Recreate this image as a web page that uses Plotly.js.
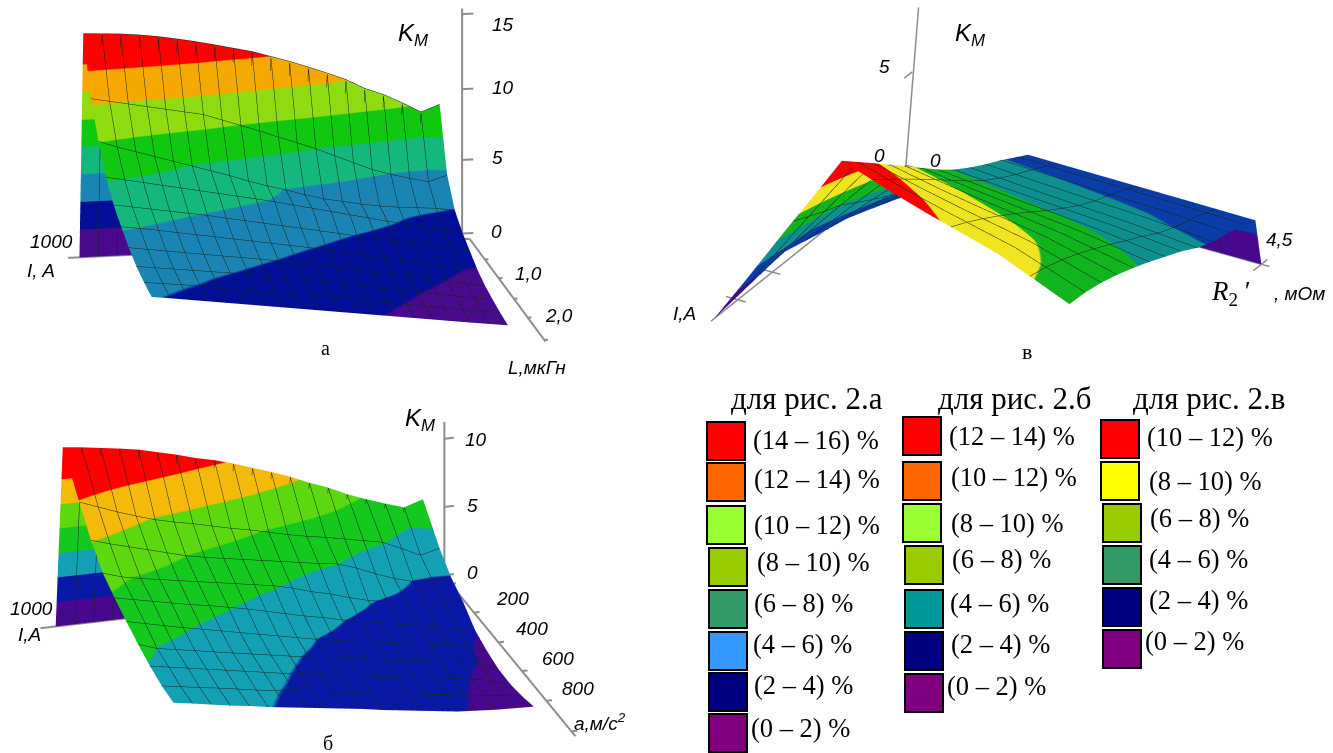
<!DOCTYPE html>
<html><head><meta charset="utf-8">
<script src="https://cdn.plot.ly/plotly-3.0.1.min.js"></script>
<style>html,body{margin:0;padding:0;background:#fff}#g{width:1333px;height:753px}</style></head>
<body><div id="g"></div>
<script>
// ---------- panel а: K_M(I, L) ----------
const currentA = [1000,950,900,850,800,750,700,650,600,550,500,450,400,350,300,250,200,150,100,50];
const inductanceA = [0,0.15,0.45,0.75,1.05,1.35,1.65,1.95,2.25,2.55,2.85];
const kmA = [
 [0,0,0,0,0,0,0,0,0,0,0,0,0,0,0,0,0,0,0,0],
 [16.17,16.1,16.02,15.89,15.71,15.48,15.23,14.94,14.64,14.34,13.93,13.52,13.06,12.57,12.05,11.36,10.87,10.22,9.5,9.98],
 [12.3,12.05,11.8,11.55,11.3,11.05,10.8,10.35,9.9,9.45,8.95,8.5,8.0,7.45,6.9,6.35,5.95,5.6,5.3,5.7],
 [10.0,9.55,9.15,8.75,8.35,7.95,7.55,7.15,6.7,6.3,5.95,5.55,5.2,4.95,4.7,4.5,4.35,4.25,4.15,3.95],
 [8.2,7.95,7.7,7.44,7.19,6.93,6.68,6.42,6.17,5.9,5.6,5.32,5.03,4.73,4.44,4.15,3.87,3.6,3.35,3.1],
 [6.97,6.76,6.55,6.34,6.13,5.91,5.66,5.42,5.18,4.93,4.69,4.45,4.2,3.95,3.72,3.5,3.28,3.05,2.8,2.5],
 [6.15,5.98,5.77,5.55,5.34,5.13,4.91,4.7,4.49,4.27,4.06,3.82,3.57,3.32,3.07,2.82,2.57,2.32,2.07,1.9],
 [5.4,5.22,5.04,4.86,4.68,4.5,4.33,4.15,3.96,3.74,3.52,3.3,3.08,2.86,2.64,2.42,2.2,1.98,1.75,1.5],
 [4.8,4.65,4.49,4.34,4.18,4.03,3.85,3.65,3.45,3.25,3.05,2.85,2.65,2.45,2.25,2.05,1.85,1.65,1.45,1.25],
 [4.4,4.25,4.11,3.97,3.76,3.58,3.4,3.22,3.04,2.86,2.68,2.5,2.33,2.15,1.97,1.78,1.6,1.42,1.24,1.05],
 [4.1,3.94,3.77,3.6,3.43,3.26,3.09,2.92,2.75,2.58,2.41,2.24,2.07,1.9,1.73,1.56,1.39,1.22,1.06,0.9]
];
// ---------- panel б: K_M(I, a) ----------
const currentB = [1000,950,900,850,800,750,700,650,600,550,500,450,400,350,300,250,200,150,100,50];
const accelB = [0,60,200,300,400,500,600,700,800,900,1000];
const kmB = [
 [0,0,0,0,0,0,0,0,0,0,0,0,0,0,0,0,0,0,0,0],
 [14.6,14.42,14.2,13.98,13.73,13.36,13.0,12.57,12.23,11.8,11.3,10.8,10.27,9.63,9.08,8.4,7.84,7.33,6.86,7.33],
 [11.9,11.35,10.8,10.3,9.85,9.5,9.2,8.85,8.5,8.2,7.85,7.5,7.2,6.95,6.65,6.35,6.05,5.4,4.7,5.08],
 [10.04,9.6,9.2,8.8,8.4,8.0,7.7,7.45,7.2,6.95,6.7,6.45,6.2,6.0,5.5,4.9,4.35,3.95,3.9,3.9],
 [8.6,8.15,7.85,7.6,7.35,7.1,6.85,6.6,6.35,6.1,5.75,5.3,4.95,4.5,4.1,3.85,3.7,3.5,3.3,3.15],
 [7.8,7.5,7.2,6.9,6.6,6.35,6.05,5.75,5.4,5.05,4.7,4.4,4.05,3.75,3.5,3.2,2.95,2.65,2.4,2.1],
 [7.08,6.75,6.42,6.1,5.8,5.5,5.2,4.9,4.6,4.3,4.0,3.75,3.5,3.3,3.05,2.85,2.6,2.4,2.15,1.6],
 [6.42,5.93,5.67,5.42,5.16,4.9,4.65,4.4,4.15,3.9,3.7,3.45,3.25,3.0,2.8,2.6,2.4,2.2,1.95,1.27],
 [5.85,5.6,5.35,5.1,4.85,4.6,4.35,4.1,3.85,3.65,3.45,3.25,3.0,2.8,2.6,2.4,2.15,1.95,1.65,1.23],
 [5.42,5.2,4.95,4.75,4.5,4.25,4.05,3.85,3.65,3.45,3.2,3.0,2.8,2.6,2.4,2.2,2.0,1.8,1.6,1.4],
 [5.23,5.0,4.75,4.5,4.3,4.05,3.85,3.65,3.45,3.25,3.05,2.8,2.6,2.4,2.2,2.0,1.9,1.8,1.75,1.7]
];
// ---------- panel в: K_M(I, R2') ----------
const currentC = [960,880,800,720,640,560,480,400,320,240,160,80,30,0];
const resistC = [
 [0,0.09,0.18,0.27,0.34,0.41,0.47,0.59,0.72,0.86,0.99,1.13,1.22,1.22],
 [0.41,0.47,0.54,0.61,0.66,0.71,0.76,0.85,0.95,1.05,1.15,1.25,1.32,1.32],
 [0.89,0.93,0.97,1.01,1.04,1.07,1.10,1.15,1.22,1.28,1.34,1.40,1.44,1.44],
 [1.30,1.31,1.33,1.35,1.36,1.38,1.39,1.41,1.44,1.47,1.49,1.52,1.54,1.54],
 [1.62,1.62,1.62,1.62,1.62,1.62,1.62,1.62,1.62,1.62,1.62,1.62,1.62,1.62],
 [2.25,2.25,2.25,2.25,2.25,2.25,2.25,2.25,2.25,2.25,2.25,2.25,2.25,2.25],
 [2.7,2.7,2.7,2.7,2.7,2.7,2.7,2.7,2.7,2.7,2.7,2.7,2.7,2.7],
 [3.6,3.6,3.6,3.6,3.6,3.6,3.6,3.6,3.6,3.6,3.6,3.6,3.6,3.6],
 [4.5,4.5,4.5,4.5,4.5,4.5,4.5,4.5,4.5,4.5,4.5,4.5,4.5,4.5]
];
const kmC = [
 [0,0.7,1.4,2.1,2.1,2.1,2.1,2.1,2.1,2.1,2.1,2.1,2.1,0],
 [3,3.31,3.62,3.92,3.7,3.47,3.25,3.05,2.89,2.74,2.61,2.46,2.37,0],
 [6.6,6.44,6.27,6.1,5.61,5.12,4.63,4.19,3.83,3.5,3.21,2.9,2.69,0],
 [9.6,9.04,8.49,7.92,7.21,6.49,5.78,5.14,4.61,4.14,3.72,3.24,2.95,0],
 [12,11.13,10.26,9.38,8.49,7.59,6.7,5.9,5.24,4.65,4.12,3.52,3.16,0],
 [10.91,10.22,9.5,8.74,7.97,7.17,6.38,5.65,5.01,4.46,3.99,3.46,3.13,0],
 [10.21,9.64,9.01,8.34,7.64,6.91,6.17,5.49,4.86,4.34,3.91,3.43,3.11,0],
 [8.92,8.56,8.11,7.59,7.02,6.42,5.79,5.2,4.59,4.12,3.77,3.36,3.07,0],
 [7.04,6.98,6.79,6.49,6.12,5.7,5.23,4.77,4.19,3.79,3.55,3.26,3.02,0]
];
// band colours of the surfaces, lowest band first
const bandsA = ['#4a0a8c','#000f96','#1a84b4','#14b87d','#10c810','#8fdc10','#f5a800','#ff0000'];
const bandsB = ['#48088e','#0a18a8','#14a0b4','#14c81e','#5cd80e','#f5b90a','#ff0000'];
const bandsC = ['#48088e','#0a3ca8','#0f9090','#12b41e','#f0e51e','#ff0000'];
// axis tick positions
const zTicksA=[0.4,5.6,10.6,15.9], lTicksA=[0.6,1.15,1.75,2.3,2.95];
const zTicksB=[0.5,5.8,11.1], aTicksB=[20,219,426,626,833,1046];
const zTicksC=[0,5.9], iTicksC=[668,841];
// legend
const legendTitles=['для рис. 2.а','для рис. 2.б','для рис. 2.в'];
const legendLabelsA=['(14 – 16) %','(12 – 14) %','(10 – 12) %','(8 – 10) %','(6 – 8) %','(4 – 6) %','(2 – 4) %','(0 – 2) %'];
const legendColorsA=['#ff0000','#ff6600','#99ff33','#99cc00','#339966','#3399ff','#000080','#800080'];
const legendLabelsB=['(12 – 14) %','(10 – 12) %','(8 – 10) %','(6 – 8) %','(4 – 6) %','(2 – 4) %','(0 – 2) %'];
const legendColorsB=['#ff0000','#ff6600','#99ff33','#99cc00','#009999','#000080','#800080'];
const legendLabelsC=['(10 – 12) %','(8 – 10) %','(6 – 8) %','(4 – 6) %','(2 – 4) %','(0 – 2) %'];
const legendColorsC=['#ff0000','#ffff00','#99cc00','#339966','#000080','#800080'];

const W=1333,H=753, PXH=0.505, D=10;
function discrete(c){const o=[],n=c.length;c.forEach((v,i)=>{o.push([i/n,v],[(i+1)/n,v]);});return o;}
const flat={ambient:1,diffuse:0,specular:0,roughness:1,fresnel:0};
const noAxis=r=>({visible:false,range:r,showspikes:false});
const LINE='#14241e';
function cont(s,e,z){return {show:true,start:s,end:e,size:z,color:LINE,width:2,highlight:false};}
function axisLine(scene,x,y,z,w){return {type:'scatter3d',mode:'lines',scene,x,y,z,line:{color:'#8c8c8c',width:w||4},hoverinfo:'skip',showlegend:false};}
function segs(list){const x=[],y=[],z=[];list.forEach(s=>{x.push(s[0],s[3],null);y.push(s[1],s[4],null);z.push(s[2],s[5],null);});return [x,y,z];}
function sceneCfg(dom,xr,yr,zr,len,dir){
 const px=PXH*(dom[3]-dom[2]);
 return {domain:{x:[dom[0]/W,dom[1]/W],y:[1-dom[3]/H,1-dom[2]/H]},
  xaxis:noAxis(xr),yaxis:noAxis(yr),zaxis:noAxis(zr),
  aspectmode:'manual',aspectratio:{x:len[0]/px,y:len[1]/px,z:len[2]/px},
  camera:{projection:{type:'orthographic'},up:{x:0,y:0,z:1},center:{x:0,y:0,z:0},eye:{x:dir[0]*D,y:dir[1]*D,z:dir[2]*D}}};
}
const data=[];
data.push({type:'surface',scene:'scene',x:currentA,y:inductanceA,z:kmA,cmin:0,cmax:16,colorscale:discrete(bandsA),showscale:false,lighting:flat,hoverinfo:'skip',
  contours:{x:cont(50,1000,50),y:cont(0.15,2.85,0.3)}});
data.push({type:'surface',scene:'scene2',x:currentB,y:accelB,z:kmB,cmin:0,cmax:14,colorscale:discrete(bandsB),showscale:false,lighting:flat,hoverinfo:'skip',
  contours:{x:cont(50,1000,50),y:cont(200,1000,100)}});
data.push({type:'surface',scene:'scene3',x:resistC.map(()=>currentC),y:resistC,z:kmC,cmin:0,cmax:12,colorscale:discrete(bandsC),showscale:false,lighting:flat,hoverinfo:'skip',
  contours:{x:cont(80,960,80),y:cont(2.7,2.7,1)}});
// axes
let a;
a=segs([[-20,0,0,-20,0,16.3],[-40,0,0,-40,3.0,0],[-40,0,0,1030,0,0]].concat(zTicksA.map(t=>[-20,0,t,-50,0,t])).concat(lTicksA.map(t=>[-40,t,0,-50,t,0])));
data.push(axisLine('scene',a[0],a[1],a[2]));
a=segs([[-25,0,0,-25,0,12.4],[-35,0,0,-35,1080,0],[-35,0,0,1040,0,0]].concat(zTicksB.map(t=>[-25,0,t,-50,0,t])).concat(aTicksB.map(t=>[-35,t,0,-50,t,0])));
data.push(axisLine('scene2',a[0],a[1],a[2]));
a=segs([[0,0,0,0,0.16,10],[0,0,0,975,0,0],[0,0,0,0,4.6,0],[-30,4.5,0,40,4.5,0]].concat(zTicksC.map(t=>[0,0.08,t,40,0.08,t])).concat(iTicksC.map(t=>[t,-0.15,0,t,0.1,0])));
data.push(axisLine('scene3',a[0],a[1],a[2],3));

const ann=[],shapes=[];
const txt=(t,x,y,o)=>ann.push(Object.assign({text:t,xref:'paper',yref:'paper',x:x/W,y:1-y/H,showarrow:false,xanchor:'center',yanchor:'middle',
  font:{family:'Liberation Sans',size:19,color:'#000'}},o||{}));
const it=s=>'<i>'+s+'</i>';
const km=`<i>K<sub>М</sub></i>`;
const cap=s=>({family:'Liberation Serif',size:s,color:'#000'});
txt(km,413,35,{font:{family:'Liberation Sans',size:24,color:'#000'}});
[['15',503,25],['10',503,87],['5',497,157],['0',496,232],['1000',51,242],['I, A',41,270],['1,0',528,273],['2,0',559,315],['L,мкГн',537,367]].forEach(l=>txt(it(l[0]),l[1],l[2]));
txt('а',325,348,{font:cap(20)});
txt(km,420,420,{font:{family:'Liberation Sans',size:24,color:'#000'}});
[['10',476,439],['5',472,506],['0',472,572],['1000',31,608],['I,A',30,634],['200',512,598],['400',532,628],['600',558,658],['800',578,688],['a,м/с<sup>2</sup>',600,722]].forEach(l=>txt(it(l[0]),l[1],l[2]));
txt('б',328,743,{font:cap(20)});
txt(km,970,35,{font:{family:'Liberation Sans',size:24,color:'#000'}});
[['5',885,66],['0',879,155],['0',935,160],['4,5',1279,240],['I,A',684,313],[', мОм',1299,293]].forEach(l=>txt(it(l[0]),l[1],l[2]));
txt('<i>R</i><sub>2</sub> ′',1231,293,{font:cap(27)});
txt('в',1027,351,{font:cap(22)});
const serif=cap;
[[729,legendTitles[0]],[936,legendTitles[1]],[1131,legendTitles[2]]].forEach(t=>txt(t[1],t[0],398,{xanchor:'left',font:serif(31)}));
function legend(labels,colors,xs,ys,tx,ty){
 labels.forEach((l,i)=>{
  shapes.push({type:'rect',xref:'paper',yref:'paper',x0:xs[i]/W,x1:(xs[i]+38)/W,y0:1-ys[i]/H,y1:1-(ys[i]+38)/H,fillcolor:colors[i],line:{color:'#000',width:2}});
  txt(l,tx[i],ty[i],{xanchor:'left',font:serif(26.5)});
 });
}
legend(legendLabelsA,legendColorsA,[707,707,707,709,709,709,709,709],[422,463,506,548,590,632,673,714],[751,752,752,755,752,751,752,749],[440,479,525,562,603,644,685,728]);
legend(legendLabelsB,legendColorsB,[903,903,903,905,905,905,905],[417,462,504,546,590,632,674],[947,949,949,950,948,949,945],[436,477,523,559,603,644,686]);
legend(legendLabelsC,legendColorsC,[1101,1101,1103,1103,1103,1103],[420,462,504,546,588,630],[1145,1147,1148,1147,1147,1143],[437,481,518,559,600,641]);

const layout={width:W,height:H,margin:{l:0,r:0,t:0,b:0},paper_bgcolor:'#fff',showlegend:false,annotations:ann,shapes,
 scene: sceneCfg([0,615,0,380],[-50,1050],[-0.2,3.4],[-1,17],[424,500,266],[.178,.951,.2534]),
 scene2:sceneCfg([0,632,384,753],[-50,1050],[-100,1300],[-1,20],[440.8,566.7,294.4],[.2726,.886,.375]),
 scene3:sceneCfg([666,1333,0,396],[-40,1000],[-0.2,5],[-1,13],[413.3,481.7,258.9],[.759,.448,.4718])
};
Plotly.newPlot('g',data,layout,{displayModeBar:false,scrollZoom:false});
</script></body></html>
